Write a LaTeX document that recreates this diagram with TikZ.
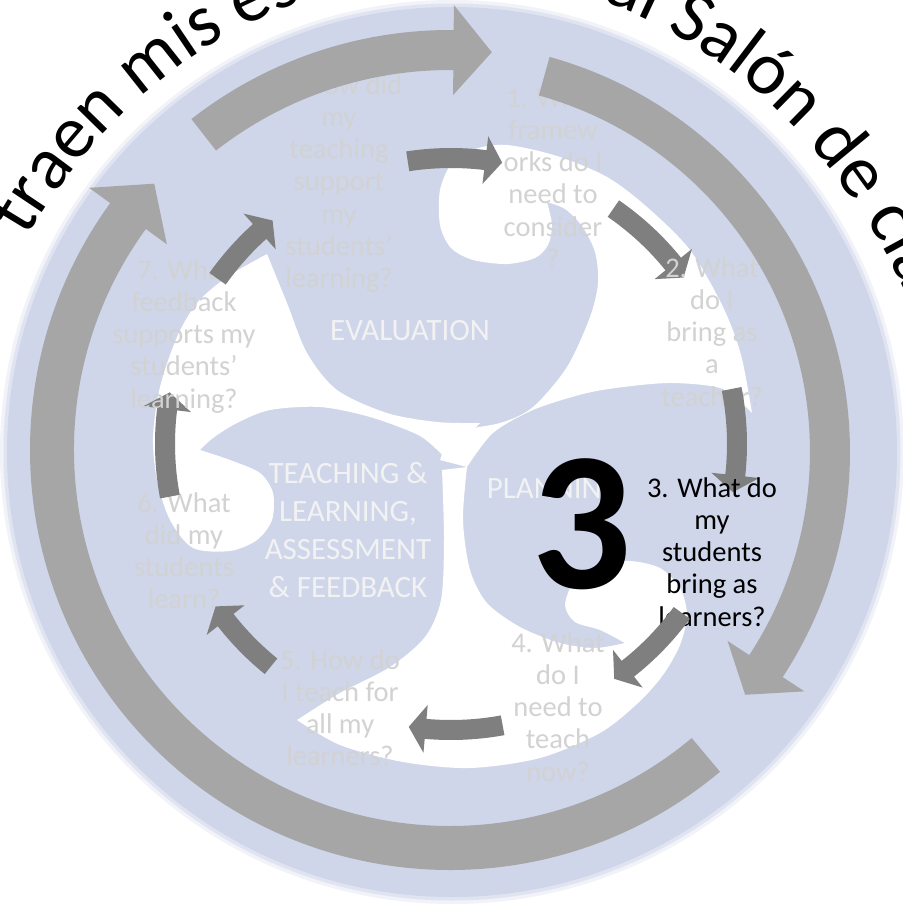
\documentclass[tikz,border=0pt]{standalone}
\usepackage{fontspec}
\setmainfont{Carlito}
\usetikzlibrary{calc,decorations.text}
\definecolor{paleblue}{RGB}{207,214,234}
\definecolor{outerarrow}{RGB}{166,166,166}
\definecolor{innerarrow}{RGB}{127,127,127}
\definecolor{qtext}{RGB}{210,210,210}
\definecolor{cattext}{RGB}{242,242,242}
\newcommand\ringarrow[9]{%
  \pgfmathsetmacro\rOut{#4+#5/2}\pgfmathsetmacro\rIn{#4-#5/2}%
  \pgfmathsetmacro\hOut{#4+#6}\pgfmathsetmacro\hIn{#4-#6}%
  \fill[#1] ($(#2,-#3)+(#7:\rOut)$) arc[start angle=#7, end angle=#8, radius=\rOut]
    -- ($(#2,-#3)+(#8:\hOut)$) -- ($(#2,-#3)+(#9:#4)$) -- ($(#2,-#3)+(#8:\hIn)$)
    -- ($(#2,-#3)+(#8:\rIn)$) arc[start angle=#8, end angle=#7, radius=\rIn] -- cycle;}
\tikzset{
  qlabel/.style={font=\fontsize{28.5}{32.2}\selectfont, text=qtext, align=center, inner sep=0pt, anchor=north},
  blacklabel/.style={qlabel, text=black},
  catlabel/.style={font=\fontsize{31}{38}\selectfont, text=cattext, align=center, inner sep=0pt},
}
\begin{document}
\begin{tikzpicture}[x=1pt,y=1pt]
\useasboundingbox (0,0) rectangle (902,-904);
\fill[white] (0,0) rectangle (902,-904);
% pale disk with a soft rim
\fill[paleblue!30] (452,-452) circle (452);
\fill[paleblue!65] (452,-452) circle (448.5);
\fill[paleblue] (452,-452) circle (445);
% white swirl arm 1 (top right)
\fill[white] plot[smooth] coordinates {(450,-431) (500,-423) (533,-407) (567,-367) (590,-317) (598,-283) (595,-252) (582,-226) (565,-209) (547,-202)}
  -- plot[smooth] coordinates {(547,-202) (552,-225) (548,-245) (535,-258) (507,-264) (473,-260) (451,-248) (440,-225) (440,-190) (452,-163) (475,-149) (507,-145) (557,-156) (607,-177) (647,-207) (690,-250) (723,-307) (741,-355) (752,-413)}
  -- plot[smooth] coordinates {(752,-413) (723,-389) (673,-383) (623,-387) (583,-394) (533,-410) (493,-433) (467,-467)}
  -- (440,-460) -- cycle;
% white swirl arm 3 (left)
\fill[white] plot[smooth] coordinates {(445,-458) (420,-436) (370,-417) (320,-407) (270,-410) (237,-423) (213,-438) (200,-450)}
  -- plot[smooth] coordinates {(200,-450) (230,-460) (260,-473) (273,-493) (272,-520) (257,-540) (230,-551) (193,-548) (170,-520) (157,-480) (153,-437) (160,-387) (177,-337) (197,-303) (227,-277) (267,-254)}
  -- plot[smooth] coordinates {(267,-254) (287,-303) (307,-353) (337,-390) (387,-413) (437,-422) (480,-423)}
  -- cycle;
% white swirl arm 2 (bottom)
\fill[white] plot[smooth] coordinates {(467,-467) (463,-520) (470,-570) (487,-603) (520,-627) (560,-643) (595,-648) (625,-643)}
  -- plot[smooth] coordinates {(625,-643) (600,-630) (575,-622) (565,-605) (575,-580) (600,-565) (630,-561) (660,-568) (680,-588) (687,-615) (680,-645) (663,-675) (638,-703) (600,-733) (540,-758) (470,-768) (403,-762) (340,-745) (297,-720)}
  -- plot[smooth] coordinates {(297,-720) (340,-693) (390,-667) (425,-637) (441,-600) (444,-540) (442,-470)}
  -- cycle;
% category labels
\node[catlabel, anchor=base] (evaluation) at (410,-340) {EVALUATION};
\node[catlabel, anchor=base] (planning) at (554,-498) {PLANNING};
\node[catlabel, anchor=north] (teaching) at (348,-456.4) {\strut TEACHING \&\\LEARNING,\\ASSESSMENT\\\& FEEDBACK\strut};
% questions and inner arrows
\node[qlabel] (q1) at (553,-84.5) {\strut 1. What\\framew\\orks do I\\need to\\consider\\?\strut};
\ringarrow{innerarrow}{451}{444}{286}{20}{24}{55.4}{39.0}{35.6}
\node[qlabel] (q2) at (712,-254.5) {\strut 2. What\\do I\\bring as\\a\\teacher?\strut};
\ringarrow{innerarrow}{451}{444}{286}{20}{24}{11.1}{-6.3}{-9.7}
\node[blacklabel] (q3) at (712,-474.5) {\strut 3. What do\\my\\students\\bring as\\learners?\strut};
\ringarrow{innerarrow}{451}{444}{286}{20}{24}{-36.2}{-51.8}{-55.2}
\node[qlabel] (q4) at (558,-629.5) {\strut 4. What\\do I\\need to\\teach\\now?\strut};
\ringarrow{innerarrow}{451}{444}{286}{20}{24}{-79.6}{-95.1}{-98.5}
\node[qlabel] (q5) at (340,-646.5) {\strut 5. How do\\I teach for\\all my\\learners?\strut};
\ringarrow{innerarrow}{451}{444}{286}{20}{24}{-129}{-142}{-145.4}
\node[qlabel] (q6) at (184,-489.5) {\strut 6. What\\did my\\students\\learn?\strut};
\ringarrow{innerarrow}{451}{444}{286}{20}{24}{-169.4}{-187}{-190.4}
\node[qlabel] (q7) at (184,-256.5) {\strut 7. What\\feedback\\supports my\\students’\\learning?\strut};
\ringarrow{innerarrow}{451}{444}{286}{20}{24}{144.7}{132}{128.6}
\node[qlabel] (q8) at (339,-71.5) {\strut 8. How did\\my\\teaching\\support\\my\\students’\\learning?\strut};
\ringarrow{innerarrow}{451}{444}{286}{20}{24}{98.7}{83.1}{79.7}
% outer arrows
\ringarrow{outerarrow}{450}{450}{398}{44}{48}{-50}{-216}{-222}
\ringarrow{outerarrow}{450}{450}{400}{40}{45}{128}{89.5}{84}
\ringarrow{outerarrow}{440}{452}{390}{40}{46}{74.5}{-33.3}{-38.5}
% big number
\node[font=\fontsize{198}{200}\selectfont\bfseries, anchor=base, inner sep=0pt, text=black] (big3) at (582,-588) {3};
% curved title (elliptical arch)
\path[decorate, decoration={text along path, text align=left,
  text={|\fontsize{75}{75}\selectfont|traen mis estudiantes al Salón de clase}}]
  (452,-575) ++(145.8:514 and 600) arc[start angle=145.8, end angle=0, x radius=514, y radius=600];
\end{tikzpicture}
\end{document}
